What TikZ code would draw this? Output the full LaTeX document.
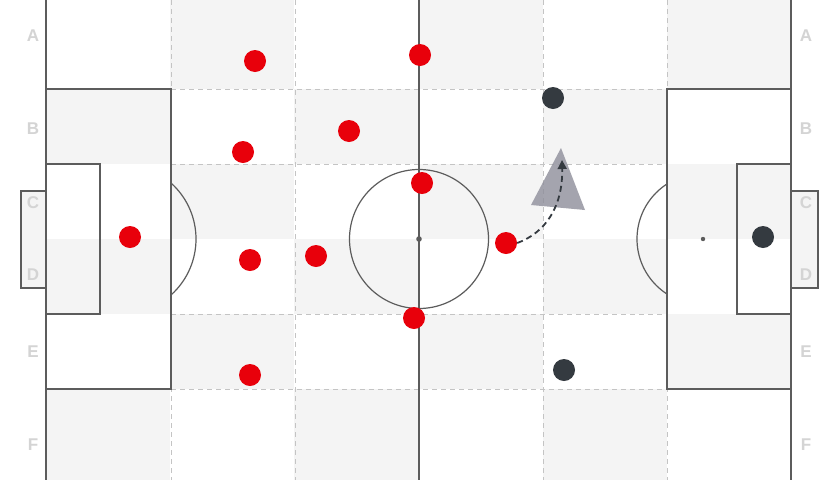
\documentclass[tikz,border=0pt]{standalone}
\usepackage{fontspec}
\setmainfont{Liberation Sans}
\usetikzlibrary{arrows.meta}
\definecolor{pitchgray}{HTML}{F4F4F4}
\definecolor{pline}{HTML}{5C5C5C}
\definecolor{gridc}{HTML}{C4C4C4}
\definecolor{lett}{HTML}{D4D4D4}
\definecolor{redp}{HTML}{E8000B}
\definecolor{darkp}{HTML}{343A40}
\definecolor{tri}{HTML}{8E8E9A}
\tikzset{
  pitchline/.style={draw=pline, line width=1.2pt},
  gridline/.style={draw=gridc, line width=0.8pt, dash pattern=on 5pt off 4pt},
  rowlabel/.style={text=lett, font=\bfseries\fontsize{17}{17}\selectfont, inner sep=0pt},
  redplayer/.style={circle, fill=redp, minimum size=22pt, inner sep=0pt},
  darkplayer/.style={circle, fill=darkp, minimum size=22pt, inner sep=0pt},
  runpath/.style={draw=darkp, line width=1.8pt, dash pattern=on 6pt off 4pt, -{Triangle[length=9pt,width=9pt]}},
}
\begin{document}
\begin{tikzpicture}[x=1pt,y=-1pt]
\useasboundingbox (0,0) rectangle (840,480);
\fill[white] (0,0) rectangle (840,480);
% checkerboard shading
\foreach \r/\ya/\yb in {0/0/89, 1/89/164, 2/164/239, 3/239/314, 4/314/389, 5/389/480} {
  \foreach \c in {0,...,5} {
    \pgfmathtruncatemacro\odd{mod(\c+\r,2)}
    \ifnum\odd=1
      \fill[pitchgray] ({46+\c*124.1667},\ya) rectangle ({46+(\c+1)*124.1667},\yb);
    \fi
  }
}
% grid dashed lines
\foreach \x in {171,295,543,667} \draw[gridline] (\x,0) -- (\x,480);
\foreach \y in {89,164,314,389} \draw[gridline] (171,\y) -- (667,\y);
% goals
\draw[pitchline, fill=pitchgray] (21,191) rectangle (46,288);
\draw[pitchline, fill=pitchgray] (791,191) rectangle (818,288);
% touchlines and halfway line
\draw[pitchline] (46,0) -- (46,480);
\draw[pitchline] (791,0) -- (791,480);
\draw[pitchline] (419,0) -- (419,480);
% penalty boxes
\draw[pitchline] (46,89) rectangle (171,389);
\draw[pitchline] (667,89) rectangle (791,389);
% goal areas
\draw[pitchline] (46,164) rectangle (100,314);
\draw[pitchline] (737,164) rectangle (791,314);
% penalty arcs
\begin{scope}
  \clip (171,0) rectangle (300,480);
  \draw[pitchline] (120.8,239) circle[radius=75.2];
\end{scope}
\begin{scope}
  \clip (540,0) rectangle (667,480);
  \draw[pitchline] (702.5,239) circle[radius=65.5];
\end{scope}
% centre circle and spots
\draw[pitchline] (419,239) circle[radius=69.5];
\fill[pline] (419,239) circle[radius=2.8];
\fill[pline] (703,239) circle[radius=2.2];
% row labels
\foreach \n/\t/\y in {a/A/36, b/B/129, c/C/203, d/D/275, e/E/352, f/F/445} {
  \node[rowlabel] (L\n) at (33,\y) {\t};
  \node[rowlabel] (R\n) at (806,\y) {\t};
}
% triangle (zone)
\fill[tri, opacity=0.8] (561,148) -- (585,210) -- (531,205) -- cycle;
% red players
\node[redplayer] (r1) at (255,61) {};
\node[redplayer] (r2) at (420,55) {};
\node[redplayer] (r3) at (349,131) {};
\node[redplayer] (r4) at (243,152) {};
\node[redplayer] (r5) at (422,183) {};
\node[redplayer] (r6) at (130,237) {};
\node[redplayer] (r7) at (250,260) {};
\node[redplayer] (r8) at (316,256) {};
\node[redplayer] (r9) at (506,243) {};
\node[redplayer] (r10) at (414,318) {};
\node[redplayer] (r11) at (250,375) {};
% dark players
\node[darkplayer] (d1) at (553,98) {};
\node[darkplayer] (d2) at (763,237) {};
\node[darkplayer] (d3) at (564,370) {};
% run
\coordinate (runend) at (562,160);
\draw[runpath] (r9.east) .. controls (545,233) and (563,207) .. (runend);
\end{tikzpicture}
\end{document}
